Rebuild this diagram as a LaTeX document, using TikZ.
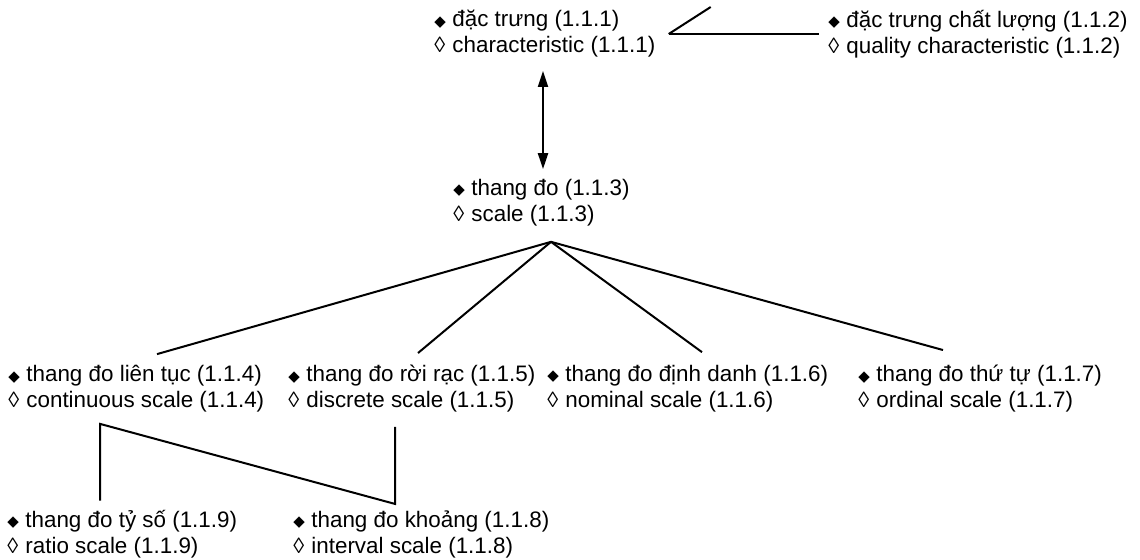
\documentclass[tikz,border=0pt]{standalone}
\usepackage{fontspec}
\setmainfont{Liberation Sans}
\newfontfamily\symfont{DejaVu Sans}
\usetikzlibrary{arrows.meta}

% filled mark for the Vietnamese term, open mark for the English one
\newcommand{\vnmark}{\makebox[9pt][l]{\raisebox{0.4pt}{\symfont\fontsize{7.5}{7.5}\selectfont ◆}}}
\newcommand{\enmark}{\makebox[9pt][l]{\raisebox{0pt}{\fontsize{11}{11}\selectfont ◊}}}
\newcommand{\term}[2]{\vnmark #1\\\enmark #2}

\begin{document}
\begin{tikzpicture}[
  x=0.5pt, y=-0.5pt,
  term/.style={align=left, inner sep=0pt, anchor=west, font=\fontsize{11.2}{13}\selectfont},
  link/.style={line width=1pt},
  twoway/.style={{Triangle[length=8pt,width=5pt]}-{Triangle[length=8pt,width=5pt]}, line width=1pt}
]
\useasboundingbox (0,0) rectangle (1140,560);

\node[term] (char) at (434,34) {\term{đặc trưng (1.1.1)}{characteristic (1.1.1)}};
\node[term] (qual) at (828,34) {\term{đặc trưng chất lượng (1.1.2)}{quality characteristic (1.1.2)}};
\node[term] (scale) at (453,203) {\term{thang đo (1.1.3)}{scale (1.1.3)}};

\node[term] (cont) at (8,389) {\term{thang đo liên tục (1.1.4)}{continuous scale (1.1.4)}};
\node[term] (disc) at (288,389) {\term{thang đo rời rạc (1.1.5)}{discrete scale (1.1.5)}};
\node[term] (nom) at (547,389) {\term{thang đo định danh (1.1.6)}{nominal scale (1.1.6)}};
\node[term] (ord) at (858,389) {\term{thang đo thứ tự (1.1.7)}{ordinal scale (1.1.7)}};

\node[term] (ratio) at (7,534) {\term{thang đo tỷ số (1.1.9)}{ratio scale (1.1.9)}};
\node[term] (interval) at (293,534) {\term{thang đo khoảng (1.1.8)}{interval scale (1.1.8)}};

% characteristic -- quality characteristic
\draw[link] ([xshift=6.5pt]char.east) coordinate (kink) -- ([xshift=-4.5pt]qual.west);
\draw[link] (kink) -- ++(21pt,13.5pt);

% characteristic <-> scale
\coordinate (axis) at ([xshift=54.5pt]char.south west);
\draw[twoway] ([yshift=-6.5pt]char.south -| axis) -- ([yshift=5pt]scale.north -| axis);

% scale fans out to the four kinds
\coordinate (fan) at ([shift={(49pt,-7.5pt)}]scale.south west);
\draw[link] (fan) -- ([shift={(74.5pt,5.5pt)}]cont.north west);
\draw[link] (fan) -- ([shift={(65pt,6pt)}]disc.north west);
\draw[link] (fan) -- ([shift={(77.5pt,6.5pt)}]nom.north west);
\draw[link] (fan) -- ([shift={(42.5pt,7.5pt)}]ord.north west);

% continuous / discrete -- ratio / interval
\coordinate (c4) at ([shift={(46pt,-5.5pt)}]cont.south west);
\coordinate (c5) at ([shift={(53.5pt,-7pt)}]disc.south west);
\draw[link] ([yshift=4.5pt]ratio.north -| c4) -- (c4) -- ([yshift=3pt]interval.north -| c5) -- (c5);
\end{tikzpicture}
\end{document}
